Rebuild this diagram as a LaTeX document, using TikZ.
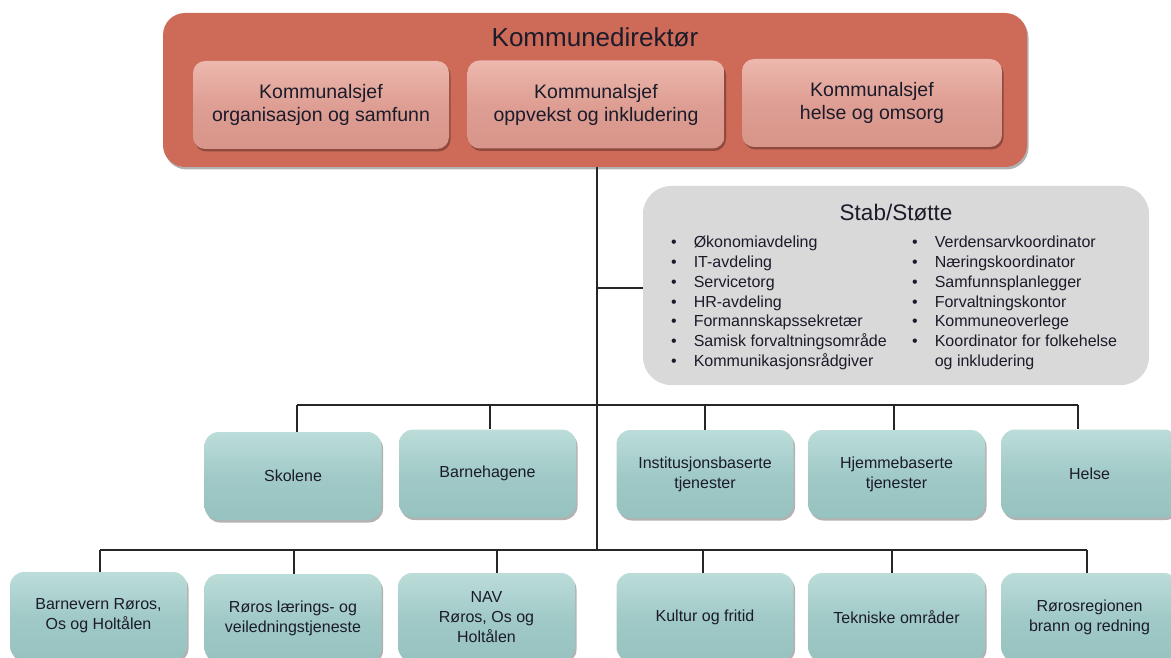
\documentclass[tikz,border=0pt]{standalone}
\usepackage{fontspec}
\setmainfont{Liberation Sans}
\usetikzlibrary{shadows}
\definecolor{kdred}{HTML}{CD6A58}
\definecolor{pinktop}{HTML}{EDB8AE}
\definecolor{pinkmid}{HTML}{DE9E93}
\definecolor{pinkbot}{HTML}{D8958A}
\definecolor{tealtop}{HTML}{BCDDDA}
\definecolor{tealmid}{HTML}{A1CAC7}
\definecolor{tealbot}{HTML}{96C2BF}
\definecolor{stabgray}{HTML}{D9D9D9}
\definecolor{linec}{HTML}{262626}
\definecolor{txt}{HTML}{1B1B2A}
\begin{document}
\begin{tikzpicture}[x=1pt,y=-1pt,
  conn/.style={draw=linec, line width=1.2pt},
  shad/.style={drop shadow={shadow xshift=1.5pt, shadow yshift=-2.5pt, opacity=0.3, fill=black}},
  tealbox/.style={shad, rounded corners=14pt, minimum width=177pt, minimum height=88pt,
    inner sep=2pt, align=center, top color=tealtop, bottom color=tealbot, middle color=tealmid,
    font=\fontsize{16}{20}\selectfont, text=txt},
  sjefbox/.style={shad, rounded corners=12pt, minimum height=88pt, inner sep=2pt, align=center,
    top color=pinktop, bottom color=pinkbot, middle color=pinkmid,
    font=\fontsize{19.5}{23}\selectfont, text=txt},
  stablist/.style={anchor=north west, inner sep=0pt, text=txt, font=\fontsize{16}{19.7}\selectfont}
]
\useasboundingbox (0,0) rectangle (1171,658);
\clip (0,0) rectangle (1171,658);

% coordinates for connector junctions
\coordinate (trunk) at (597,550);
\coordinate (js) at (597,288);
\coordinate (busAL) at (297,405);
\coordinate (busAR) at (1078,405);
\coordinate (busBL) at (100,550);
\coordinate (busBR) at (1087,550);

% top box
\node[shad, fill=kdred, rounded corners=22pt, minimum width=864pt, minimum height=154pt] (kd) at (595,90) {};
\node[text=txt, font=\fontsize{26}{31}\selectfont] (kdtitle) at (595,37) {Kommunedirektør};
\node[sjefbox, minimum width=256pt] (k1) at (321,105) {Kommunalsjef\\organisasjon og samfunn};
\node[sjefbox, minimum width=257pt] (k2) at (596,104.5) {Kommunalsjef\\oppvekst og inkludering};
\node[sjefbox, minimum width=260pt] (k3) at (872,103) {Kommunalsjef\\helse og omsorg};

% stab
\node[fill=stabgray, rounded corners=28pt, minimum width=506pt, minimum height=199pt] (stab) at (896,285.5) {};
\node[text=txt, font=\fontsize{22.5}{27}\selectfont] (stabtitle) at (896,213) {Stab/Støtte};
\node[stablist] (stabL) at (671,234) {\begin{tabular}{@{}c@{\hspace{17pt}}l@{}}
•&Økonomiavdeling\\
•&IT-avdeling\\
•&Servicetorg\\
•&HR-avdeling\\
•&Formannskapssekretær\\
•&Samisk forvaltningsområde\\
•&Kommunikasjonsrådgiver
\end{tabular}};
\node[stablist] (stabR) at (912,234) {\begin{tabular}{@{}c@{\hspace{17pt}}l@{}}
•&Verdensarvkoordinator\\
•&Næringskoordinator\\
•&Samfunnsplanlegger\\
•&Forvaltningskontor\\
•&Kommuneoverlege\\
•&Koordinator for folkehelse\\
&og inkludering
\end{tabular}};

% connectors
\draw[conn] (kd.south -| trunk) -- (trunk);
\draw[conn] (js) -- (js -| stab.west);
\draw[conn] (busAL) -- (busAR);
\draw[conn] (busBL) -- (busBR);

% row 1
\node[tealbox] (skolene) at (293,476) {Skolene};
\node[tealbox] (barnehagene) at (487.5,473.5) {Barnehagene};
\node[tealbox] (inst) at (705,474) {Institusjonsbaserte\\tjenester};
\node[tealbox] (hjemme) at (896.5,474) {Hjemmebaserte\\tjenester};
\node[tealbox] (helse) at (1089.5,473.5) {Helse};

% row 2
\node[tealbox] (barnevern) at (98.5,616) {Barnevern Røros,\\Os og Holtålen};
\node[tealbox] (laering) at (293,618) {Røros lærings- og\\veiledningstjeneste};
\node[tealbox] (nav) at (486.5,617) {NAV\\Røros, Os og\\Holtålen};
\node[tealbox] (kultur) at (705,617) {Kultur og fritid};
\node[tealbox] (tekniske) at (896.5,617) {Tekniske områder};
\node[tealbox] (brann) at (1089.5,617) {Rørosregionen\\brann og redning};

% stubs
\draw[conn] ([xshift=4pt]skolene.north) -- ([xshift=4pt]skolene.north |- busAL);
\draw[conn] ([xshift=2.5pt]barnehagene.north) -- ([xshift=2.5pt]barnehagene.north |- busAL);
\draw[conn] (inst.north) -- (inst.north |- busAL);
\draw[conn] ([xshift=-2.5pt]hjemme.north) -- ([xshift=-2.5pt]hjemme.north |- busAL);
\draw[conn] ([xshift=-11.5pt]helse.north) -- ([xshift=-11.5pt]helse.north |- busAL);
\draw[conn] ([xshift=1.5pt]barnevern.north) -- ([xshift=1.5pt]barnevern.north |- busBL);
\draw[conn] ([xshift=1pt]laering.north) -- ([xshift=1pt]laering.north |- busBL);
\draw[conn] ([xshift=10.5pt]nav.north) -- ([xshift=10.5pt]nav.north |- busBL);
\draw[conn] ([xshift=-2pt]kultur.north) -- ([xshift=-2pt]kultur.north |- busBL);
\draw[conn] ([xshift=-4.5pt]tekniske.north) -- ([xshift=-4.5pt]tekniske.north |- busBL);
\draw[conn] ([xshift=-2.5pt]brann.north) -- ([xshift=-2.5pt]brann.north |- busBL);
\end{tikzpicture}
\end{document}
